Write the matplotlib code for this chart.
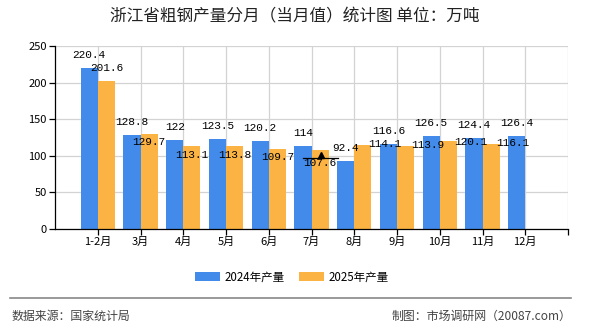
import matplotlib
matplotlib.use("Agg")
import matplotlib.pyplot as plt
import numpy as np

plt.rcParams['font.family'] = ['Noto Sans CJK SC', 'DejaVu Sans']

# ==== 数据 ====
months = ['1-2月', '3月', '4月', '5月', '6月', '7月', '8月', '9月', '10月', '11月', '12月']
output_2024 = [220.4, 128.8, 122, 123.5, 120.2, 114, 92.4, 116.6, 126.5, 124.4, 126.4]
output_2025 = [201.6, 129.7, 113.1, 113.8, 109.7, 107.6, 114.1, 113.9, 120.1, 116.1]
y_ticks = [0, 50, 100, 150, 200, 250]

# 2025年标签的位置偏移 (像素, 原图标签有错位)
lab25_dx = [0, 0, 0, 0, 0, 0, 22, 22, 22, 22]
lab25_dy = [13, -8, -9, -9, -8, -13, 1, 1, -1, 1]

c_blue = '#428BEB'
c_orange = '#FBB343'
bar_w = 0.4

fig = plt.figure(figsize=(5.9, 3.3), dpi=100)
ax = fig.add_axes([55 / 590, 1 - 229 / 330, 513 / 590, 183 / 330])

x24 = np.arange(len(output_2024))
x25 = np.arange(len(output_2025))
ax.bar(x24 - bar_w / 2, output_2024, width=bar_w, color=c_blue, zorder=2, label='2024年产量')
ax.bar(x25 + bar_w / 2, output_2025, width=bar_w, color=c_orange, zorder=2, label='2025年产量')

lab_font = dict(family=['Liberation Mono', 'DejaVu Sans Mono'], size=8, color='black')
for xi, v in zip(x24, output_2024):
    ax.annotate(f'{v:g}', (xi - bar_w / 2, v), xytext=(0, 13), textcoords='offset pixels',
                ha='center', va='center', zorder=4, **lab_font)
for xi, v, dx, dy in zip(x25, output_2025, lab25_dx, lab25_dy):
    ax.annotate(f'{v:g}', (xi + bar_w / 2, v), xytext=(dx, dy), textcoords='offset pixels',
                ha='center', va='center', zorder=4, **lab_font)

# 7月处的鼠标残影
ax.plot([4.8, 5.62], [97, 97], color='black', lw=0.9, zorder=5)
ax.plot([5.22], [101], marker='^', color='black', ms=4.5, zorder=5)

ax.set_xlim(-1, 11)
ax.set_ylim(0, 250)
ax.set_yticks(y_ticks)
ax.set_xticks(list(x24) + [11])
ax.set_xticklabels(months + [''])
ax.tick_params(axis='both', labelsize=8, length=4, width=0.9, color='black', pad=2)
ax.grid(True, color='#D3D3D3', lw=0.9, zorder=0)
for s in ['top', 'right']:
    ax.spines[s].set_visible(False)
for s in ['left', 'bottom']:
    ax.spines[s].set_color('black')
    ax.spines[s].set_linewidth(0.9)
    ax.spines[s].set_zorder(3)

fig.text(0.5, 1 - 17 / 330, '浙江省粗钢产量分月（当月值）统计图 单位：万吨',
         ha='center', va='center', fontsize=12, color='#222222')

fig.legend(loc='center', bbox_to_anchor=(292 / 590, 1 - 277 / 330), ncol=2, frameon=False,
           fontsize=8.3, handlelength=2.2, handleheight=0.9, columnspacing=1.2, handletextpad=0.4)

fig.add_artist(plt.Line2D([10 / 590, 571 / 590], [1 - 298 / 330] * 2, color='#888888', lw=1.2))
fig.text(12 / 590, 1 - 316 / 330, '数据来源：国家统计局', ha='left', va='center',
         fontsize=8.6, color='#444444')
fig.text(571 / 590, 1 - 316 / 330, '制图：市场调研网（20087.com）', ha='right', va='center',
         fontsize=8.6, color='#444444')

fig.savefig('out.png', dpi=100)
